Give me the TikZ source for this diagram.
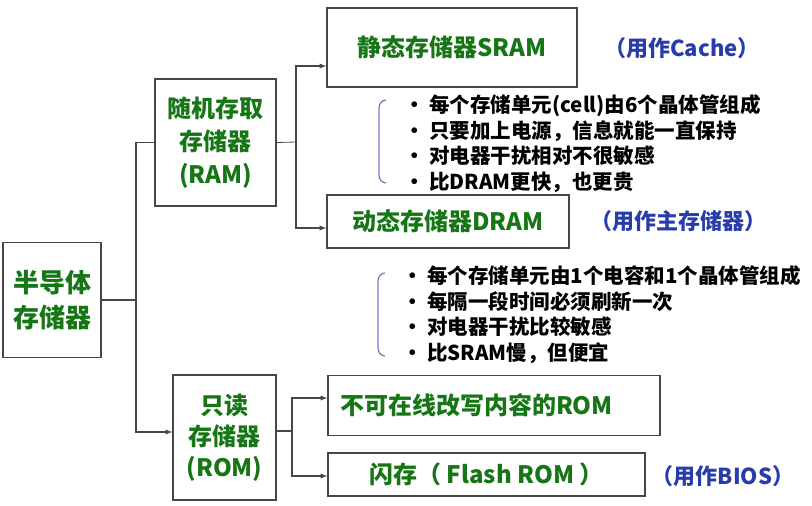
\documentclass[tikz,border=0pt]{standalone}
\usepackage{fontspec}
\setmainfont{Noto Sans CJK SC}
\usepackage{tikz}
\usetikzlibrary{arrows,positioning,calc}
\tikzset{>=latex}
\definecolor{boxgreen}{RGB}{22,118,22}
\definecolor{noteblue}{RGB}{40,60,170}
\definecolor{bracketblue}{RGB}{110,125,195}
\definecolor{edgegray}{RGB}{70,70,70}
\tikzset{
  memboxbig/.style={draw=edgegray,line width=1.4pt,text=boxgreen,font=\bfseries\fontsize{26}{35}\selectfont,align=center,inner sep=0pt},
  membox/.style={draw=edgegray,line width=1.4pt,text=boxgreen,font=\bfseries\fontsize{24}{33}\selectfont,align=center,inner sep=0pt},
  usenote/.style={text=noteblue,font=\bfseries\fontsize{22}{26}\selectfont,inner sep=0pt},
  featlist/.style={anchor=west,align=left,font=\bfseries\fontsize{20.5}{25.5}\selectfont,inner sep=0pt}
}

\begin{document}
\begin{tikzpicture}[x=1pt,y=-1pt]
\useasboundingbox (0,0) rectangle (812,506);
\node[memboxbig,minimum width=98pt,minimum height=115pt] (semi) at (52,300) {半导体\\存储器};
\node[membox,minimum width=121pt,minimum height=127pt] (ram) at (215.5,142.5) {随机存取\\存储器\\(RAM)};
\node[membox,font=\bfseries\fontsize{24}{31}\selectfont,minimum width=103pt,minimum height=125pt] (rom) at (224.5,437.5) {只读\\存储器\\(ROM)};
\node[membox,minimum width=250pt,minimum height=79pt] (sram) at (452,47.5) {静态存储器SRAM};
\node[membox,minimum width=242pt,minimum height=53pt] (dram) at (448,221.5) {动态存储器DRAM};
\node[membox,align=left,inner xsep=12pt,text width=308pt,minimum height=60pt] (mrom) at (494,405.5) {不可在线改写内容的ROM};
\node[membox,minimum width=317pt,minimum height=43pt] (flash) at (486.5,474.5) {闪存（ Flash ROM ）};

\node[usenote] (cache) at (682,48) {（用作Cache）};
\node[usenote] (mainmem) at (678,221) {（用作主存储器）};
\node[usenote] (bios) at (723,476) {（用作BIOS）};

\node[featlist] (sfeat) at (404,143.5) {• 每个存储单元(cell)由6个晶体管组成\\• 只要加上电源，信息就能一直保持\\• 对电器干扰相对不很敏感\\• 比DRAM更快，也更贵};
\node[featlist] (dfeat) at (402,314.5) {· 每个存储单元由1个电容和1个晶体管组成\\• 每隔一段时间必须刷新一次\\• 对电器干扰比较敏感\\• 比SRAM慢，但便宜};

\coordinate (js) at (136,300);
\coordinate (jr) at (296,142);
\coordinate (jo) at (292,431);
\begin{scope}[line width=1.3pt,color=edgegray]
\draw (semi) -- (js);
\draw (js) |- (ram.west);
\draw[->] (js) |- ([yshift=5.5pt]rom.west);
\draw[line width=0.8pt] (ram.east) -- (jr);
\draw[->] (jr) |- ([yshift=-18.5pt]sram.west);
\draw[->] (jr) |- ([yshift=-6.5pt]dram.west);
\draw (rom.east |- jo) -- (jo);
\draw[->] (jo) |- ([yshift=7.5pt]mrom.west);
\draw[->] (jo) |- ([yshift=-1.5pt]flash.west);
\end{scope}
% brackets in front of the lists
\begin{scope}[line width=1.2pt,color=bracketblue]
\draw (386,100) to[out=180,in=90] (379,108) -- (379,175) to[out=-90,in=180] (386,183);
\draw (385,273) to[out=180,in=90] (378,281) -- (378,348) to[out=-90,in=180] (385,356);
\end{scope}
\end{tikzpicture}
\end{document}
